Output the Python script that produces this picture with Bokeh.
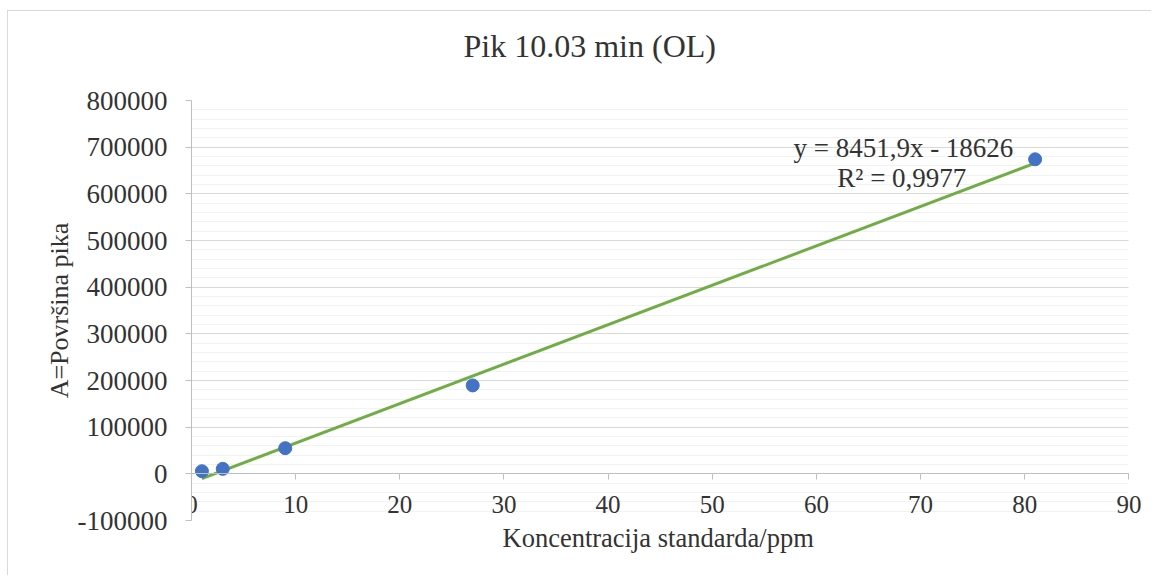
from bokeh.plotting import figure
from bokeh.models import Range1d, SingleIntervalTicker, CustomJSTickFormatter, Label, Title
from bokeh.embed import file_html
from bokeh.resources import INLINE

# ---- data ----
title_text = "Pik 10.03 min (OL)"
x_label = "Koncentracija standarda/ppm"
y_label = "A=Površina pika"
conc = [1, 3, 9, 27, 81]
area = [5600, 10700, 55000, 189500, 674000]
slope = 8451.9
intercept = -18626
eq_text = "y = 8451,9x - 18626"
r2_text = "R² = 0,9977"
x_min, x_max = 0, 90
y_min, y_max = -100000, 800000

FONT = "Liberation Serif"
TXT = "#333333"

p = figure(width=1144, height=565, output_backend="svg", toolbar_location=None,
           x_range=Range1d(x_min, x_max + 1.5), y_range=Range1d(y_min, y_max),
           min_border_left=183, min_border_right=8, min_border_top=89, min_border_bottom=56)
p.title = None
p.outline_line_color = None
p.background_fill_color = "white"
p.border_fill_color = "white"
p.styles = {"margin-left": "7px", "margin-top": "10px",
            "border-left": "1px solid #D9D9D9", "border-top": "1px solid #D9D9D9"}

# spacer between frame and title, then the title itself
p.add_layout(Title(text=" ", standoff=32, text_font_size="1px"), "above")
p.add_layout(Title(text=title_text, align="left", offset=272, standoff=0, vertical_align="top",
                   text_font=FONT, text_font_size="32px", text_font_style="normal",
                   text_color=TXT), "above")
p.add_layout(Title(text=x_label, align="left", offset=311, standoff=4, vertical_align="top",
                   text_font=FONT, text_font_size="26.5px", text_font_style="normal",
                   text_color=TXT), "below")

xt = SingleIntervalTicker(interval=10, num_minor_ticks=0)
yt = SingleIntervalTicker(interval=100000, num_minor_ticks=5)
p.xaxis.ticker = xt
p.yaxis.ticker = yt
p.ygrid.ticker = yt
p.xgrid.visible = False
p.ygrid.grid_line_color = "#D9D9D9"
p.ygrid.minor_grid_line_color = "#F2F2F2"
p.ygrid.cross_bounds = (x_min, x_max)
p.yaxis.formatter = CustomJSTickFormatter(code="return String(tick);")
p.xaxis.fixed_location = 0
p.xaxis.bounds = (x_min, x_max)

for ax in (p.xaxis, p.yaxis):
    ax.axis_line_color = "#BFBFBF"
    ax.major_tick_line_color = "#BFBFBF"
    ax.minor_tick_line_color = None
    ax.major_tick_in = 0
    ax.major_tick_out = 6
    ax.major_label_text_font = FONT
    ax.major_label_text_color = TXT
    ax.axis_label_text_font = FONT
    ax.axis_label_text_font_size = "26px"
    ax.axis_label_text_font_style = "normal"
    ax.axis_label_text_color = TXT

p.xaxis.major_label_text_font_size = "25px"
p.yaxis.major_label_text_font_size = "27px"
p.xaxis.axis_label = None
p.yaxis.axis_label = y_label
p.xaxis.major_label_standoff = 16
p.yaxis.major_label_standoff = 18
p.yaxis.axis_label_standoff = 1

# trendline
tx = [min(conc), max(conc)]
ty = [slope * v + intercept for v in tx]
p.line(tx, ty, line_color="#70AD47", line_width=3)

p.scatter(conc, area, size=13, marker="circle", fill_color="#4472C4", line_color="#4472C4")

p.add_layout(Label(x=68.35, y=699000, text=eq_text, text_align="center", text_baseline="middle",
                   text_font=FONT, text_font_size="27px", text_color=TXT))
p.add_layout(Label(x=68.2, y=634000, text=r2_text, text_align="center", text_baseline="middle",
                   text_font=FONT, text_font_size="27px", text_color=TXT))

open("out.html", "w").write(file_html(p, INLINE))
